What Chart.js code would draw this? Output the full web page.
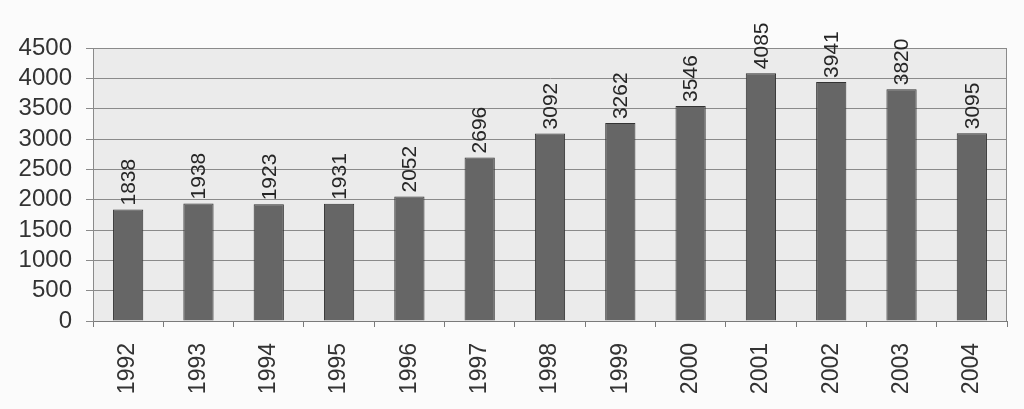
<!DOCTYPE html>
<html>
<head>
<meta charset="utf-8">
<script src="https://cdn.jsdelivr.net/npm/chart.js@4/dist/chart.umd.min.js"></script>
<style>
  html, body { margin: 0; padding: 0; background: #fbfbfb; }
  #wrap { width: 1024px; height: 409px; }
</style>
</head>
<body>
<div id="wrap"><canvas id="c"></canvas></div>
<script>
// 数据
const years = ['1992', '1993', '1994', '1995', '1996', '1997', '1998', '1999', '2000', '2001', '2002', '2003', '2004'];
const counts = [1838, 1938, 1923, 1931, 2052, 2696, 3092, 3262, 3546, 4085, 3941, 3820, 3095];
const yMax = 4500;
const yStep = 500;

const fontFamily = '"Liberation Sans", Arial, sans-serif';

// 绘图区背景
const plotBackground = {
  id: 'plotBackground',
  beforeDraw(chart) {
    const { ctx, chartArea: a } = chart;
    ctx.save();
    ctx.fillStyle = '#ebebeb';
    ctx.fillRect(a.left, a.top, a.right - a.left, a.bottom - a.top);
    ctx.strokeStyle = '#8a8a8a';
    ctx.lineWidth = 1;
    ctx.strokeRect(a.left + 0.5, a.top + 0.5, a.right - a.left - 1, a.bottom - a.top);
    ctx.restore();
  }
};

// 柱顶的竖排数值
const barLabels = {
  id: 'barLabels',
  afterDatasetsDraw(chart) {
    const { ctx } = chart;
    const meta = chart.getDatasetMeta(0);
    ctx.save();
    ctx.font = '21px ' + fontFamily;
    ctx.fillStyle = '#262626';
    ctx.textAlign = 'left';
    ctx.textBaseline = 'middle';
    meta.data.forEach((bar, i) => {
      ctx.save();
      ctx.translate(bar.x + 1, bar.y - 4);
      ctx.rotate(-Math.PI / 2);
      ctx.fillText(String(counts[i]), 0, 0);
      ctx.restore();
    });
    ctx.restore();
  }
};

new Chart(document.getElementById('c'), {
  type: 'bar',
  data: {
    labels: years,
    datasets: [{
      data: counts,
      backgroundColor: '#666666',
      borderColor: '#333333',
      borderWidth: 1,
      barPercentage: 0.43,
      categoryPercentage: 1
    }]
  },
  options: {
    responsive: true,
    maintainAspectRatio: false,
    animation: false,
    layout: { padding: { top: 48, right: 17, left: 0, bottom: 0 } },
    plugins: {
      legend: { display: false },
      tooltip: { enabled: false }
    },
    scales: {
      x: {
        afterFit(scale) { scale.height = 88; },
        grid: {
          offset: true,
          drawOnChartArea: false,
          drawTicks: true,
          tickLength: 6,
          color: '#7a7a7a'
        },
        border: { color: '#7a7a7a' },
        ticks: {
          minRotation: 90,
          maxRotation: 90,
          padding: 16,
          color: '#333',
          font: { family: fontFamily, size: 23 }
        }
      },
      y: {
        min: 0,
        max: yMax,
        afterFit(scale) { scale.width = 93; },
        grid: {
          color: '#8a8a8a',
          tickLength: 7
        },
        border: { color: '#8a8a8a' },
        ticks: {
          stepSize: yStep,
          autoSkip: false,
          padding: 14,
          color: '#333',
          font: { family: fontFamily, size: 24, lineHeight: 1 },
          callback: v => String(v)
        }
      }
    }
  },
  plugins: [plotBackground, barLabels]
});
</script>
</body>
</html>
